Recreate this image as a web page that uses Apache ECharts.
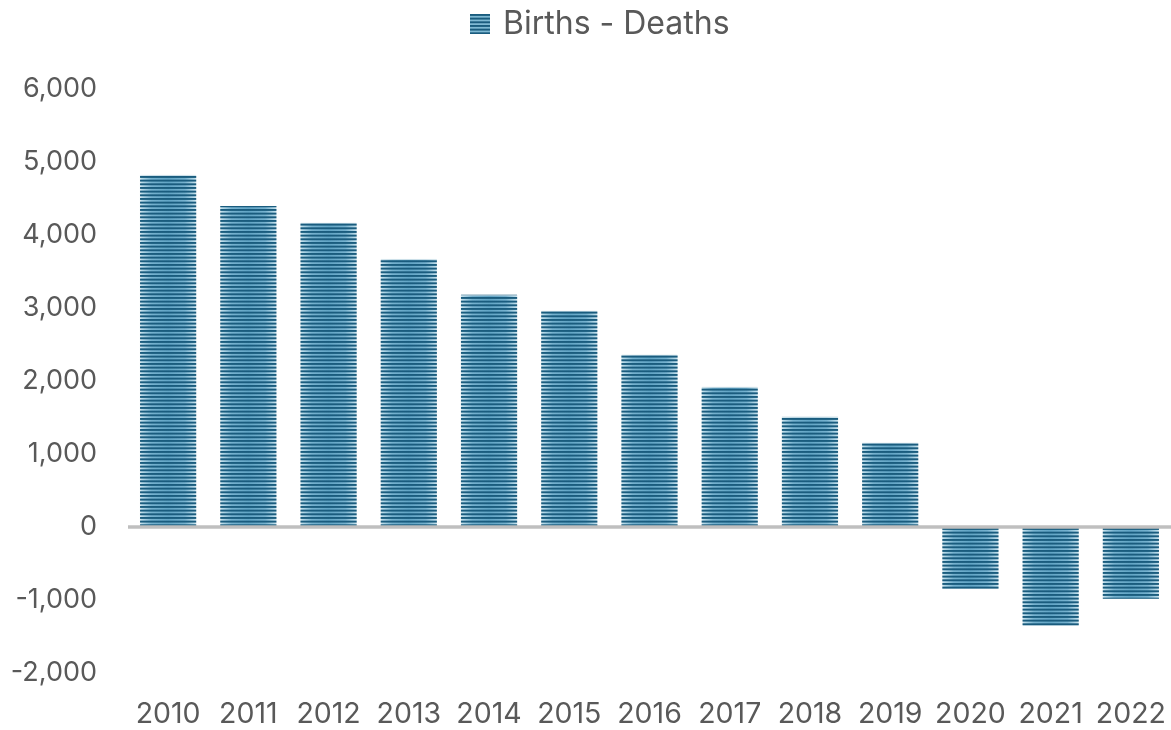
<!DOCTYPE html>
<html>
<head>
<meta charset="utf-8">
<script src="https://cdn.jsdelivr.net/npm/echarts@6/dist/echarts.min.js"></script>
<style>
  html, body { margin: 0; padding: 0; background: #fff; }
  #chart { width: 1171px; height: 730px; }
</style>
</head>
<body>
<div id="chart"></div>
<script>
// ── data ──
const years = ['2010', '2011', '2012', '2013', '2014', '2015', '2016', '2017', '2018', '2019', '2020', '2021', '2022']
const births_minus_deaths = [4815, 4390, 4160, 3665, 3175, 2955, 2355, 1915, 1505, 1150, -850, -1355, -985]
const seriesName = 'Births - Deaths'

// ── stripe patterns ──
function stripeCanvas(bg) {
  const c = document.createElement('canvas')
  c.width = 8
  c.height = 11
  const ctx = c.getContext('2d')
  if (bg) {
    ctx.fillStyle = bg
    ctx.fillRect(0, 0, 8, 11)
  }
  ctx.fillStyle = '#1a5c7e'
  for (let k = 0; k < 3; k++) ctx.fillRect(0, k * 11 / 3, 8, 1.9)
  return c
}
const stripes = stripeCanvas(null)
const stripesLegend = stripeCanvas('#7fb9d3')

const font = 'Inter'
const grey = '#595959'

const chart = echarts.init(document.getElementById('chart'))
chart.setOption({
  animation: false,
  textStyle: { fontFamily: font },
  legend: {
    top: 3,
    left: 465,
    itemWidth: 20,
    itemHeight: 20,
    data: [{ name: seriesName, icon: 'rect', itemStyle: { color: { image: stripesLegend, repeat: 'repeat' } } }],
    textStyle: { fontSize: 32, color: grey, fontFamily: font, padding: [0, 0, 0, 8] },
  },
  grid: { left: 128, right: 0, top: 88.4, bottom: 57 },
  xAxis: {
    type: 'category',
    data: years,
    axisLine: { show: false, onZero: false },
    axisTick: { show: false },
    axisLabel: { fontSize: 28.5, color: grey, margin: 27, fontFamily: font, interval: 0 },
  },
  yAxis: {
    type: 'value',
    min: -2000,
    max: 6000,
    interval: 1000,
    splitLine: { show: false },
    axisLine: { show: false },
    axisTick: { show: false },
    axisLabel: {
      fontSize: 27, color: grey, margin: 31, fontFamily: font,
      formatter: (v) => v.toLocaleString('en-US'),
    },
  },
  series: [
    {
      // stripe overlay
      name: seriesName,
      type: 'bar',
      data: births_minus_deaths,
      barCategoryGap: '30%',
      barGap: '-100%',
      z: 3,
      itemStyle: { color: { image: stripes, repeat: 'repeat' } },
    },
    {
      // base with edge gradient
      name: seriesName,
      type: 'bar',
      data: births_minus_deaths,
      barCategoryGap: '30%',
      barGap: '-100%',
      z: 2,
      itemStyle: {
        color: new echarts.graphic.LinearGradient(0, 0, 1, 0, [
          { offset: 0, color: '#c8e4ef' },
          { offset: 0.2, color: '#76b2cf' },
          { offset: 0.5, color: '#62a5c5' },
          { offset: 0.8, color: '#76b2cf' },
          { offset: 1, color: '#c8e4ef' },
        ]),
        borderColor: '#d3e3ea',
        borderWidth: 0.8,
      },
      markLine: {
        silent: true,
        symbol: 'none',
        label: { show: false },
        lineStyle: { color: '#bfbfbf', width: 3.5, type: 'solid' },
        data: [{ yAxis: 0 }],
      },
    },
  ],
})
</script>
</body>
</html>
